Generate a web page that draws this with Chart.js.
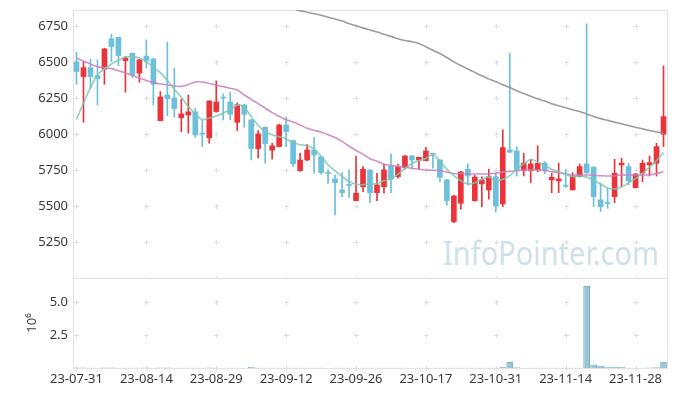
<!DOCTYPE html>
<html>
<head>
<meta charset="utf-8">
<script src="https://cdn.jsdelivr.net/npm/chart.js@4.4.1/dist/chart.umd.min.js"></script>
<style>
  html, body { margin: 0; padding: 0; background: #fff; }
  #wrap { position: relative; width: 677px; height: 396px; overflow: hidden; }
  #wrap canvas { position: absolute; left: 0; }
  #cPrice { top: 0; }
  #cVol { top: 270px; }
</style>
</head>
<body>
<div id="wrap">
  <canvas id="cPrice" width="677" height="279"></canvas>
  <canvas id="cVol" width="677" height="126"></canvas>
</div>
<script>
// 거래일
const dates = [
  "23-07-31",
  "23-08-01", "23-08-02", "23-08-03", "23-08-04",
  "23-08-07", "23-08-08", "23-08-09", "23-08-10", "23-08-11",
  "23-08-14", "23-08-16", "23-08-17", "23-08-18",
  "23-08-21", "23-08-22", "23-08-23", "23-08-24", "23-08-25",
  "23-08-28", "23-08-29", "23-08-30", "23-08-31", "23-09-01",
  "23-09-04", "23-09-05", "23-09-06", "23-09-07", "23-09-08",
  "23-09-11", "23-09-12", "23-09-13", "23-09-14", "23-09-15",
  "23-09-18", "23-09-19", "23-09-20", "23-09-21", "23-09-22",
  "23-09-25", "23-09-26", "23-09-27",
  "23-10-04", "23-10-05", "23-10-06",
  "23-10-10", "23-10-11", "23-10-12", "23-10-13",
  "23-10-16", "23-10-17", "23-10-18", "23-10-19", "23-10-20",
  "23-10-23", "23-10-24", "23-10-25", "23-10-26", "23-10-27",
  "23-10-30", "23-10-31", "23-11-01", "23-11-02", "23-11-03",
  "23-11-06", "23-11-07", "23-11-08", "23-11-09", "23-11-10",
  "23-11-13", "23-11-14", "23-11-15", "23-11-16", "23-11-17",
  "23-11-20", "23-11-21", "23-11-22", "23-11-23", "23-11-24",
  "23-11-27", "23-11-28", "23-11-29", "23-11-30", "23-12-01",
  "23-12-04"
];

// 시가 / 고가 / 저가 / 종가
const opens = [
  6500, 6398, 6460, 6405, 6449, 6660, 6671, 6509, 6560, 6422,
  6540, 6521, 6092, 6271, 6250, 6113, 6132, 6153, 6002, 5974,
  6155, 6252, 6222, 6081, 6201, 6097, 5898, 6046, 5887, 5912,
  6062, 5953, 5745, 5819, 5889, 5842, 5729, 5688, 5611, 5646,
  5537, 5634, 5750, 5592, 5634, 5778, 5704, 5766, 5847, 5819,
  5815, 5863, 5819, 5681, 5391, 5519, 5755, 5537, 5653, 5611,
  5703, 5514, 5889, 5882, 5745, 5745, 5750, 5797, 5681, 5674,
  5641, 5611, 5704, 5792, 5769, 5542, 5521, 5565, 5785, 5773,
  5627, 5727, 5785, 5797, 5998
];
const highs = [
  6567, 6500, 6519, 6514, 6595, 6692, 6671, 6537, 6562, 6516,
  6653, 6525, 6294, 6637, 6456, 6240, 6270, 6178, 6097, 6230,
  6368, 6278, 6290, 6215, 6205, 6100, 6023, 6050, 5935, 6069,
  6116, 5955, 5866, 5928, 5977, 5845, 5750, 5715, 5731, 5750,
  5847, 5773, 5752, 5727, 5790, 5861, 5790, 5850, 5850, 5840,
  5907, 5866, 5822, 5683, 5576, 5740, 5792, 5712, 5703, 5755,
  5727, 6028, 6560, 5912, 5866, 5824, 5917, 5808, 5727, 5797,
  5750, 5731, 5792, 6764, 5773, 5658, 5623, 5824, 5831, 5797,
  5725, 5819, 5847, 5935, 6472
];
const lows = [
  6345, 6081, 6313, 6201, 6345, 6502, 6474, 6290, 6391, 6359,
  6456, 6201, 6090, 6127, 6116, 6015, 6005, 5975, 5912, 5935,
  6150, 6097, 6097, 6023, 6046, 5820, 5833, 5797, 5824, 5910,
  5912, 5773, 5740, 5815, 5727, 5720, 5657, 5438, 5565, 5560,
  5535, 5599, 5523, 5537, 5588, 5592, 5692, 5755, 5755, 5755,
  5812, 5762, 5669, 5507, 5384, 5477, 5646, 5533, 5495, 5547,
  5458, 5495, 5870, 5708, 5708, 5662, 5738, 5722, 5592, 5592,
  5628, 5611, 5700, 5722, 5495, 5461, 5484, 5523, 5634, 5646,
  5625, 5669, 5708, 5708, 5912
];
const closes = [
  6433, 6460, 6398, 6384, 6590, 6606, 6544, 6526, 6410, 6514,
  6507, 6345, 6257, 6245, 6176, 6139, 6153, 5993, 5998, 6229,
  6222, 6248, 6137, 6203, 6137, 5898, 6000, 5933, 5917, 6062,
  6016, 5792, 5819, 5889, 5854, 5731, 5725, 5662, 5592, 5642,
  5588, 5755, 5592, 5646, 5750, 5685, 5773, 5847, 5819, 5838,
  5882, 5859, 5699, 5537, 5569, 5736, 5708, 5700, 5681, 5703,
  5500, 5905, 5873, 5750, 5797, 5792, 5797, 5750, 5699, 5688,
  5637, 5708, 5773, 5731, 5565, 5495, 5517, 5727, 5797, 5674,
  5722, 5797, 5801, 5912, 6120
];

// 이동평균선
const ma5 = [
  6102, 6215, 6320, 6410, 6450, 6485, 6510, 6533, 6535, 6527,
  6500, 6465, 6425, 6372, 6310, 6255, 6190, 6140, 6100, 6110,
  6125, 6145, 6167, 6200, 6185, 6120, 6060, 6015, 5995, 5980,
  5965, 5940, 5925, 5920, 5895, 5845, 5785, 5745, 5705, 5670,
  5650, 5648, 5652, 5655, 5675, 5688, 5720, 5760, 5795, 5815,
  5830, 5855, 5810, 5755, 5710, 5675, 5652, 5660, 5685, 5700,
  5675, 5685, 5710, 5755, 5790, 5822, 5805, 5780, 5755, 5738,
  5720, 5704, 5706, 5700, 5678, 5652, 5625, 5618, 5632, 5660,
  5690, 5727, 5770, 5815, 5870
];
const ma20 = [
  6526, 6505, 6485, 6467, 6460, 6453, 6438, 6424, 6405, 6388,
  6370, 6356, 6347, 6340, 6333, 6330, 6343, 6360, 6360, 6350,
  6338, 6328, 6317, 6305, 6270, 6240, 6210, 6180, 6148, 6122,
  6098, 6082, 6062, 6040, 6025, 6012, 5995, 5975, 5948, 5915,
  5885, 5860, 5828, 5810, 5790, 5782, 5775, 5768, 5762, 5755,
  5750, 5748, 5745, 5735, 5725, 5725, 5722, 5722, 5722, 5722,
  5728, 5735, 5740, 5745, 5750, 5750, 5750, 5745, 5738, 5730,
  5722, 5715, 5715, 5715, 5713, 5710, 5708, 5710, 5715, 5715,
  5715, 5715, 5716, 5725, 5738
];
const ma60 = [
  null, null, null, null, null, null, null, null, null, null,
  null, null, null, null, null, null, null, null, null, null,
  null, null, null, null, null, null, null, null, null, null,
  null, 6868, 6855, 6845, 6834, 6823, 6810, 6798, 6783, 6766,
  6750, 6736, 6721, 6707, 6692, 6677, 6660, 6648, 6640, 6628,
  6605, 6580, 6558, 6530, 6500, 6475, 6451, 6427, 6403, 6382,
  6362, 6341, 6322, 6300, 6280, 6262, 6244, 6228, 6210, 6196,
  6182, 6168, 6155, 6138, 6121, 6106, 6094, 6082, 6070, 6058,
  6046, 6035, 6024, 6013, 6005
];

// 거래량
const volumes = [
  32000, 45000, 28000, 21000, 38000, 41000, 26000, 19000, 24000, 22000,
  30000, 27000, 35000, 44000, 25000, 18000, 16000, 21000, 15000, 29000,
  26000, 14000, 12000, 17000, 13000, 85000, 23000, 16000, 11000, 19000,
  15000, 20000, 14000, 12000, 16000, 13000, 9000, 22000, 15000, 11000,
  18000, 14000, 16000, 10000, 13000, 17000, 12000, 15000, 9000, 11000,
  14000, 10000, 13000, 19000, 24000, 21000, 12000, 17000, 11000, 15000,
  22000, 80000, 450000, 60000, 25000, 18000, 20000, 14000, 16000, 12000,
  13000, 15000, 18000, 6250000, 260000, 180000, 100000, 95000, 80000, 20000,
  18000, 22000, 30000, 55000, 480000
];

const priceTicks = [5250, 5500, 5750, 6000, 6250, 6500, 6750];
const volTicks = [2500000, 5000000];

const RED = "#ea3439";
const BLUE = "#6cc0dc";
const candleColors = opens.map((o, i) => (closes[i] > o ? RED : BLUE));

Chart.defaults.font.family = "'Noto Sans', sans-serif";
Chart.defaults.font.size = 13;
Chart.defaults.color = "#3a3a3a";

// 테두리, + 모양 격자, 워터마크
const gridPlus = {
  id: "gridPlus",
  beforeDatasetsDraw(chart, args, opts) {
    const { ctx, chartArea: a, scales } = chart;
    ctx.save();

    if (opts.watermark) {
      ctx.font = "33px 'Noto Sans', sans-serif";
      ctx.fillStyle = "#cfe0e9";
      ctx.textBaseline = "alphabetic";
      const w = ctx.measureText(opts.watermark).width;
      ctx.translate(659, 265);
      ctx.scale(216 / w, 1);
      ctx.fillText(opts.watermark, -w, 0);
      ctx.setTransform(1, 0, 0, 1, 0, 0);
    }

    ctx.strokeStyle = "#e3e3e3";
    ctx.lineWidth = 1;
    ctx.strokeRect(Math.round(a.left) + 0.5, Math.round(a.top) + 0.5,
      Math.round(a.right - a.left), Math.round(a.bottom - a.top));

    ctx.strokeStyle = "#dedede";
    ctx.beginPath();
    dates.forEach((d, i) => {
      if (i % 10 !== 0) return;
      const x = Math.round(scales.x.getPixelForValue(i)) + 0.5;
      opts.rows.forEach((v) => {
        const y = Math.round(scales.y.getPixelForValue(v)) + 0.5;
        ctx.moveTo(x - 2.5, y);
        ctx.lineTo(x + 2.5, y);
        ctx.moveTo(x, y - 2.5);
        ctx.lineTo(x, y + 2.5);
      });
    });
    ctx.stroke();
    ctx.restore();
  },
};

const fixAxis = (s) => {
  s.width = 73;
  s.paddingTop = 0;
  s.paddingBottom = 0;
};

const lineDs = (data, color) => ({
  type: "line",
  data,
  borderColor: color,
  borderWidth: 1.6,
  pointRadius: 0,
  tension: 0.4,
  fill: false,
  order: 0,
});

new Chart(document.getElementById("cPrice"), {
  type: "bar",
  data: {
    labels: dates,
    datasets: [
      lineDs(ma5, "rgba(125,198,178,0.85)"),
      lineDs(ma20, "rgba(202,125,192,0.85)"),
      lineDs(ma60, "rgba(145,145,145,0.9)"),
      {
        data: opens.map((o, i) => [o, closes[i]]),
        backgroundColor: candleColors,
        barThickness: 5,
        minBarLength: 1,
        grouped: false,
        order: 1,
      },
      {
        data: lows.map((l, i) => [l, highs[i]]),
        backgroundColor: candleColors,
        barThickness: 1,
        grouped: false,
        order: 2,
      },
    ],
  },
  options: {
    responsive: false,
    animation: false,
    events: [],
    layout: { padding: { top: 10, right: 10, bottom: 1, left: 0 } },
    plugins: {
      legend: { display: false },
      tooltip: { enabled: false },
      gridPlus: { rows: [5000].concat(priceTicks), watermark: "InfoPointer.com" },
    },
    scales: {
      x: { display: false, offset: true },
      y: {
        min: 5000,
        max: 6860,
        grid: { display: false, drawTicks: false },
        border: { display: false },
        ticks: { padding: 5, callback: (v) => String(v) },
        afterBuildTicks: (s) => {
          s.ticks = priceTicks.map((v) => ({ value: v }));
        },
        afterFit: fixAxis,
      },
    },
  },
  plugins: [gridPlus],
});

new Chart(document.getElementById("cVol"), {
  type: "bar",
  data: {
    labels: dates,
    datasets: [
      {
        data: volumes,
        backgroundColor: "rgba(148,194,210,0.95)",
        borderColor: "#79afc3",
        borderWidth: 1,
        barPercentage: 0.96,
        categoryPercentage: 1,
      },
    ],
  },
  options: {
    responsive: false,
    animation: false,
    events: [],
    layout: { padding: { top: 8, right: 10, bottom: 0, left: 0 } },
    plugins: {
      legend: { display: false },
      tooltip: { enabled: false },
      gridPlus: { rows: [0].concat(volTicks) },
    },
    scales: {
      x: {
        offset: true,
        grid: { display: false, drawTicks: false },
        border: { display: false },
        ticks: {
          autoSkip: false,
          maxRotation: 0,
          padding: 3,
          callback: (v, i) => (i % 10 === 0 ? dates[i] : null),
        },
        afterFit: (s) => {
          s.height = 28;
        },
      },
      y: {
        min: 0,
        max: 6860000,
        grid: { display: false, drawTicks: false },
        border: { display: false },
        ticks: { padding: 5, callback: (v) => (v / 1e6).toFixed(1) },
        afterBuildTicks: (s) => {
          s.ticks = volTicks.map((v) => ({ value: v }));
        },
        afterFit: fixAxis,
        title: { display: true, text: "10\u2076", padding: { top: 24, bottom: 0 } },
      },
    },
  },
  plugins: [gridPlus],
});
</script>
</body>
</html>
